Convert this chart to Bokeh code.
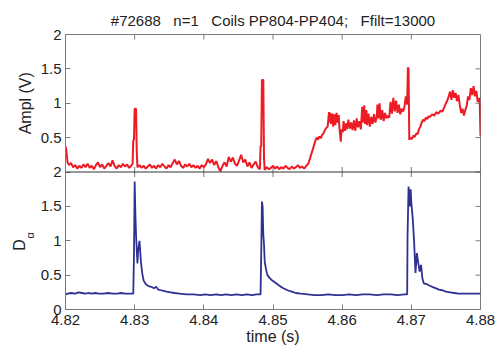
import math
from bokeh.plotting import figure
from bokeh.layouts import row
from bokeh.models import Range1d, FixedTicker, PrintfTickFormatter, Span
from bokeh.core.properties import value
from bokeh.embed import file_html
from bokeh.resources import INLINE

title_text = "#72688   n=1   Coils PP804-PP404;   Ffilt=13000"
x_label = "time (s)"
top_label = "Ampl (V)"
bottom_label = "D"
bottom_sub = "α"
x_ticks = [4.82, 4.83, 4.84, 4.85, 4.86, 4.87, 4.88]
y_ticks = [0, 0.5, 1, 1.5, 2]

# Top panel: amplitude (V)
amp_t = [4.8200, 4.8201, 4.8203, 4.8205, 4.8208, 4.8211, 4.8214, 4.8217, 4.8220, 4.8223,
         4.8226, 4.8229, 4.8232, 4.8235, 4.8238, 4.8241, 4.8244, 4.8247, 4.8250, 4.8253,
         4.8256, 4.8259, 4.8262, 4.8265, 4.8268, 4.8271, 4.8274, 4.8277, 4.8280, 4.8283,
         4.8286, 4.8289, 4.8292, 4.8295, 4.8297,
         4.8298, 4.8299, 4.8300, 4.8302, 4.8303, 4.8304,
         4.8307, 4.8310, 4.8313, 4.8316, 4.8319, 4.8322, 4.8325, 4.8328, 4.8331, 4.8334,
         4.8337, 4.8340, 4.8343, 4.8346, 4.8349, 4.8352, 4.8355, 4.8358, 4.8361, 4.8364,
         4.8367, 4.8370, 4.8373, 4.8376, 4.8379, 4.8382, 4.8385, 4.8388, 4.8391, 4.8394,
         4.8397, 4.8400, 4.8403, 4.8406, 4.8409, 4.8412, 4.8415, 4.8418, 4.8421, 4.8424,
         4.8427, 4.8430, 4.8433, 4.8436, 4.8439, 4.8442, 4.8445, 4.8448, 4.8451, 4.8454,
         4.8457, 4.8460, 4.8463, 4.8466, 4.8469, 4.8472, 4.8475, 4.8478, 4.8481,
         4.8482, 4.8483, 4.8484, 4.8486, 4.8487, 4.8488,
         4.8491, 4.8494, 4.8497, 4.8500, 4.8503, 4.8506, 4.8509, 4.8512, 4.8515, 4.8518,
         4.8521, 4.8524, 4.8527, 4.8530, 4.8533, 4.8536, 4.8539, 4.8542, 4.8545, 4.8548,
         4.8551, 4.8553, 4.8555, 4.8557, 4.8559, 4.8561, 4.8563, 4.8565, 4.8567, 4.8569,
         4.8571, 4.8573, 4.8575, 4.8577, 4.8579, 4.8581, 4.8582, 4.8583, 4.8584, 4.8586,
         4.8587, 4.8589, 4.8590, 4.8592, 4.8593, 4.8595, 4.8596, 4.8598, 4.8599, 4.8601,
         4.8602, 4.8604, 4.8606, 4.8607, 4.8609, 4.8611, 4.8613, 4.8615, 4.8617, 4.8619,
         4.8621, 4.8623, 4.8625, 4.8627, 4.8629, 4.8630, 4.8632, 4.8633, 4.8635, 4.8636,
         4.8638, 4.8640, 4.8642, 4.8644, 4.8646, 4.8648, 4.8650, 4.8651, 4.8653, 4.8654,
         4.8656, 4.8658, 4.8660, 4.8662, 4.8664, 4.8666, 4.8668, 4.8670, 4.8672, 4.8674,
         4.8676, 4.8678, 4.8680, 4.8682, 4.8684, 4.8686, 4.8688, 4.8690, 4.8692, 4.8694,
         4.8695, 4.8696, 4.8697,
         4.8699, 4.8701, 4.8703, 4.8705, 4.8707, 4.8709, 4.8711, 4.8713, 4.8715, 4.8717,
         4.8719, 4.8721, 4.8723, 4.8725, 4.8727, 4.8730, 4.8733, 4.8736, 4.8739, 4.8742,
         4.8745, 4.8748, 4.8750, 4.8752, 4.8754, 4.8756, 4.8758, 4.8760, 4.8762, 4.8764,
         4.8766, 4.8768, 4.8770, 4.8772, 4.8774, 4.8776, 4.8778, 4.8780, 4.8782, 4.8784,
         4.8786, 4.8788, 4.8790, 4.8792, 4.8794, 4.8796, 4.8798, 4.8799, 4.8800]
amp_v = [0.37, 0.33, 0.14, 0.10, 0.13, 0.07, 0.10, 0.05, 0.09, 0.06,
         0.11, 0.07, 0.12, 0.06, 0.09, 0.04, 0.10, 0.14, 0.07, 0.11,
         0.05, 0.09, 0.13, 0.08, 0.17, 0.09, 0.05, 0.10, 0.07, 0.12,
         0.08, 0.11, 0.06, 0.09, 0.12,
         0.46, 0.47, 0.92, 0.92, 0.30, 0.07,
         0.10, 0.06, 0.09, 0.05, 0.08, 0.11, 0.06, 0.09, 0.05, 0.10,
         0.07, 0.12, 0.08, 0.05, 0.10, 0.07, 0.13, 0.18, 0.11, 0.16,
         0.09, 0.06, 0.11, 0.08, 0.12, 0.07, 0.10, 0.06, 0.09, 0.05,
         0.10, 0.07, 0.11, 0.19, 0.13, 0.18, 0.10, 0.16, 0.07, 0.01,
         0.09, 0.14, 0.08, 0.22, 0.15, 0.21, 0.12, 0.09, 0.17, 0.25,
         0.14, 0.18, 0.08, 0.14, 0.06, 0.11, 0.15, 0.07, 0.04,
         0.37, 0.38, 1.34, 1.34, 0.20, 0.03,
         0.07, 0.04, 0.06, 0.09, 0.05, 0.08, 0.04, 0.07, 0.05, 0.09,
         0.06, 0.04, 0.08, 0.05, 0.07, 0.10, 0.06, 0.08, 0.05, 0.09,
         0.12, 0.18, 0.25, 0.31, 0.38, 0.45, 0.50, 0.47, 0.52, 0.49,
         0.54, 0.56, 0.61, 0.64, 0.66, 0.87, 0.72, 0.86, 0.70, 0.85,
         0.66, 0.84, 0.68, 0.86, 0.72, 0.83, 0.65, 0.44, 0.62, 0.58,
         0.74, 0.60, 0.71, 0.62, 0.76, 0.63, 0.72, 0.61, 0.75, 0.60,
         0.78, 0.65, 0.74, 0.62, 0.95, 0.72, 0.97, 0.70, 0.90, 0.68,
         0.85, 0.66, 0.80, 0.70, 0.84, 0.72, 0.80, 0.98, 0.78, 1.00,
         0.76, 0.90, 0.74, 0.86, 0.78, 0.82, 0.79, 1.02, 0.85, 1.08,
         0.88, 1.04, 0.86, 0.98, 0.84, 0.92, 0.88, 0.94, 1.10, 0.98,
         1.52, 1.50, 0.47,
         0.50, 0.48, 0.53, 0.51, 0.56, 0.55, 0.62, 0.66, 0.72, 0.76,
         0.74, 0.79, 0.77, 0.81, 0.80, 0.84, 0.82, 0.87, 0.85, 0.89,
         0.88, 0.95, 1.00, 1.04, 1.10, 1.17, 1.05, 1.19, 1.08, 1.15,
         1.03, 1.12, 0.98, 0.86, 0.92, 0.82, 0.90, 0.96, 1.10, 1.05,
         1.22, 1.12, 1.25, 1.10, 1.18, 1.02, 1.08, 0.98, 0.52]

# Bottom panel: D-alpha
da_t = [4.8200, 4.8203, 4.8208, 4.8214, 4.8219, 4.8224, 4.8229, 4.8233, 4.8238, 4.8243,
        4.8248, 4.8255, 4.8262, 4.8268, 4.8275, 4.8280, 4.8286, 4.8292, 4.8298,
        4.8299, 4.8300, 4.8301, 4.8302, 4.8304, 4.8305, 4.8307, 4.8308, 4.8309, 4.8311,
        4.8313, 4.8316, 4.8320, 4.8324, 4.8328, 4.8331, 4.8334, 4.8338, 4.8342, 4.8346,
        4.8352, 4.8358, 4.8365, 4.8375, 4.8385, 4.8395, 4.8402, 4.8410, 4.8418, 4.8425,
        4.8432, 4.8440, 4.8447, 4.8455, 4.8462, 4.8470, 4.8476, 4.8482,
        4.8483, 4.8484, 4.8485, 4.8486, 4.8487, 4.8488, 4.8490, 4.8492, 4.8495, 4.8498,
        4.8502, 4.8506, 4.8510, 4.8515, 4.8521, 4.8527, 4.8533, 4.8540, 4.8550, 4.8560,
        4.8570, 4.8580, 4.8590, 4.8600, 4.8610, 4.8620, 4.8630, 4.8640, 4.8650, 4.8660,
        4.8670, 4.8680, 4.8690, 4.8694,
        4.86945, 4.8696, 4.8697, 4.8698, 4.8699, 4.8700, 4.8702, 4.8704, 4.8706, 4.8708,
        4.8710, 4.8712, 4.8714, 4.8716, 4.8718, 4.8722, 4.8726, 4.8730, 4.8735, 4.8740,
        4.8745, 4.8750, 4.8756, 4.8762, 4.8768, 4.8775, 4.8785, 4.8800]
da_v = [0.22, 0.23, 0.24, 0.23, 0.25, 0.24, 0.23, 0.24, 0.23, 0.24,
        0.23, 0.23, 0.24, 0.23, 0.23, 0.24, 0.23, 0.23, 0.23,
        0.79, 1.86, 1.40, 1.08, 0.67, 0.85, 1.00, 0.85, 0.70, 0.52,
        0.42, 0.37, 0.34, 0.33, 0.31, 0.33, 0.29, 0.28, 0.27, 0.26,
        0.25, 0.24, 0.23, 0.22, 0.22, 0.21, 0.22, 0.21, 0.22, 0.21,
        0.22, 0.21, 0.22, 0.21, 0.22, 0.21, 0.22, 0.22,
        0.82, 1.57, 1.50, 1.08, 0.95, 0.70, 0.58, 0.50, 0.46, 0.43,
        0.40, 0.37, 0.34, 0.31, 0.28, 0.26, 0.24, 0.23, 0.22, 0.21,
        0.21, 0.22, 0.21, 0.21, 0.22, 0.21, 0.22, 0.22, 0.21, 0.22,
        0.22, 0.21, 0.22, 0.22,
        1.06, 1.79, 1.62, 1.50, 1.75, 1.55, 1.33, 0.99, 0.53, 0.82,
        0.68, 0.55, 0.65, 0.45, 0.38, 0.37, 0.35, 0.33, 0.31, 0.29,
        0.28, 0.26, 0.25, 0.24, 0.23, 0.23, 0.23, 0.23]

RED = "#ED1C24"
BLUE = "#2E3192"
FRAME = "#7a7a7a"
TEXT = "#222222"
FONT = "Liberation Sans"
FS = "15px"
SIDE_W = 37
H = 352
TOP_B = 34
BOT_B = 43

# ---- main plot (both panels share one frame, split at y=2 of the default range)
p = figure(width=497 - SIDE_W, height=H, output_backend="svg", toolbar_location=None,
           x_range=Range1d(4.82, 4.88), y_range=Range1d(0, 4),
           min_border_left=64 - SIDE_W, min_border_right=17, min_border_top=TOP_B,
           min_border_bottom=BOT_B)
p.extra_y_ranges = {"top": Range1d(-2, 2)}
p.xgrid.visible = False
p.ygrid.visible = False
p.outline_line_color = FRAME
p.background_fill_color = "white"
p.border_fill_color = "white"

p.title.text = title_text.replace("  ", "\u00a0\u00a0")
p.title.align = "center"
p.title.text_font = FONT
p.title.text_font_size = "15px"
p.title.text_font_style = "normal"
p.title.text_color = TEXT
p.title.standoff = 12

xa = p.xaxis[0]
xa.ticker = FixedTicker(ticks=x_ticks)
xa.formatter = PrintfTickFormatter(format="%.2f")
xa.axis_label = x_label
xa.axis_label_text_font = FONT
xa.axis_label_text_font_size = "16px"
xa.axis_label_text_font_style = "normal"
xa.axis_label_text_color = TEXT
xa.axis_label_standoff = 0
xa.major_label_standoff = 5

left_ticks = y_ticks + [v + 2 for v in y_ticks[1:]]
overrides = {}
for v in y_ticks:
    overrides[v] = str(v) if v != int(v) else str(int(v))
for v in y_ticks[1:]:
    overrides[v + 2] = str(v) if v != int(v) else str(int(v))
ya = p.yaxis[0]
ya.ticker = FixedTicker(ticks=left_ticks)
ya.major_label_overrides = overrides
ya.major_label_standoff = 4

for ax in (xa, ya):
    ax.major_tick_in = 5
    ax.major_tick_out = 0
    ax.minor_tick_in = 0
    ax.minor_tick_out = 0
    ax.axis_line_color = FRAME
    ax.major_tick_line_color = FRAME
    ax.major_label_text_font = FONT
    ax.major_label_text_font_size = FS
    ax.major_label_text_color = TEXT

# inward box ticks on the top edge, the right edge and the panel divider
px_per_y = 275 / 4.0          # frame height / y span
px_per_x = 416 / 0.06         # frame width / x span
ty = 5 / px_per_y
tx = 5 / px_per_x
inner_x = x_ticks[1:-1]
p.segment(x0=inner_x, y0=[4] * len(inner_x), x1=inner_x, y1=[4 - ty] * len(inner_x),
          line_color=FRAME, line_width=1)
p.segment(x0=inner_x, y0=[2 - ty] * len(inner_x), x1=inner_x, y1=[2 + ty] * len(inner_x),
          line_color=FRAME, line_width=1)
right_y = [v for v in left_ticks if v not in (0, 4)]
p.segment(x0=[4.88] * len(right_y), y0=right_y, x1=[4.88 - tx] * len(right_y), y1=right_y,
          line_color=FRAME, line_width=1)
p.add_layout(Span(location=2, dimension="width", line_color="#333333", line_width=1))

p.line(da_t, da_v, line_color=BLUE, line_width=1.8)
p.line(amp_t, amp_v, line_color=RED, line_width=2.0, y_range_name="top")

# ---- narrow strip on the left holding the rotated y-axis titles (same vertical scale)
s = figure(width=SIDE_W, height=H, output_backend="svg", toolbar_location=None, title=None,
           x_range=Range1d(0, SIDE_W), y_range=p.y_range,
           x_axis_type=None, y_axis_type=None,
           min_border_left=0, min_border_right=0, min_border_top=TOP_B, min_border_bottom=BOT_B)
s.outline_line_color = None
s.xgrid.visible = False
s.ygrid.visible = False
s.background_fill_color = "white"
s.border_fill_color = "white"
s.text(x=[25], y=[3.0], text=[top_label], angle=math.pi / 2, text_align="center",
       text_baseline="middle", text_font=value(FONT), text_font_size="16px", text_color=TEXT)
s.text(x=[18.5], y=[0.94], text=[bottom_label], angle=math.pi / 2, text_align="center",
       text_baseline="middle", text_font=value(FONT), text_font_size="16px", text_color=TEXT)
s.text(x=[29], y=[1.08], text=[bottom_sub], angle=math.pi / 2, text_align="center",
       text_baseline="middle", text_font=value(FONT), text_font_size="11px", text_color=TEXT)

layout = row(s, p)
open("out.html", "w").write(file_html(layout, INLINE))
